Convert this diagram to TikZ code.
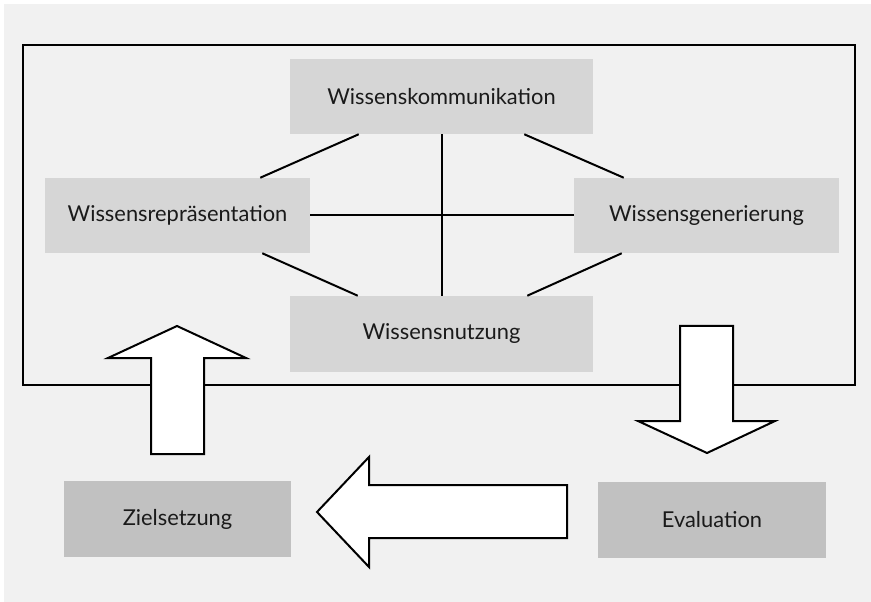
\documentclass[tikz,border=0pt]{standalone}
\usepackage{fontspec}
\setmainfont{Lato}
\usetikzlibrary{calc}
\definecolor{bggray}{HTML}{F1F1F1}
\definecolor{boxlight}{HTML}{D6D6D6}
\definecolor{boxdark}{HTML}{C1C1C1}
\definecolor{txt}{HTML}{1A1A1A}
\tikzset{
  box/.style={fill=boxlight, draw=none, inner sep=0pt, text=txt,
    font=\fontsize{16.4}{19}\selectfont},
  darkbox/.style={box, fill=boxdark},
  link/.style={line width=1.5pt, draw=black},
  blockarrow/.style={line width=1.5pt, draw=black, fill=white, line join=miter},
  frame/.style={line width=1.5pt, draw=black}
}
\begin{document}
\begin{tikzpicture}[x=0.75pt,y=-0.75pt]
\useasboundingbox (0,0) rectangle (871,602);
\fill[white] (0,0) rectangle (871,602);
\fill[bggray] (4,4) rectangle (871,602);
\draw[frame] (23,45) rectangle (855,385);

\node[box, minimum width={303*0.75pt}, minimum height={75*0.75pt}] (komm) at (441.5,96.5) {Wissenskommunikation};
\node[box, minimum width={265*0.75pt}, minimum height={75*0.75pt}] (repr) at (177.5,215.5) {Wissensrepräsentation};
\node[box, minimum width={265*0.75pt}, minimum height={75*0.75pt}] (gen) at (706.5,215.5) {Wissensgenerierung};
\node[box, minimum width={303*0.75pt}, minimum height={76*0.75pt}] (nutz) at (441.5,334) {Wissensnutzung};
\node[darkbox, minimum width={227*0.75pt}, minimum height={76*0.75pt}] (ziel) at (177.5,519) {Zielsetzung};
\node[darkbox, minimum width={228*0.75pt}, minimum height={76*0.75pt}] (eval) at (712,520) {Evaluation};

\draw[link] (komm.south) -- (nutz.north);
\draw[link] (repr.east) -- (gen.west);
\draw[link] ($(komm.south west)+(69,0)$) -- ($(repr.north east)+(-50,0)$);
\draw[link] ($(komm.south east)+(-69,0)$) -- ($(gen.north west)+(50,0)$);
\draw[link] ($(repr.south east)+(-48,0)$) -- ($(nutz.north west)+(68,0)$);
\draw[link] ($(gen.south west)+(48,0)$) -- ($(nutz.north east)+(-66,0)$);

% block arrows
\draw[blockarrow] (151,454) -- (151,358) -- (108,358) -- (177,326) -- (246,358) -- (204,358) -- (204,454) -- cycle;
\draw[blockarrow] (680,326) -- (733,326) -- (733,421) -- (775,421) -- (707,453) -- (638,421) -- (680,421) -- cycle;
\draw[blockarrow] (567,485) -- (369,485) -- (369,457) -- (317,512) -- (369,567) -- (369,538) -- (567,538) -- cycle;
\end{tikzpicture}
\end{document}
